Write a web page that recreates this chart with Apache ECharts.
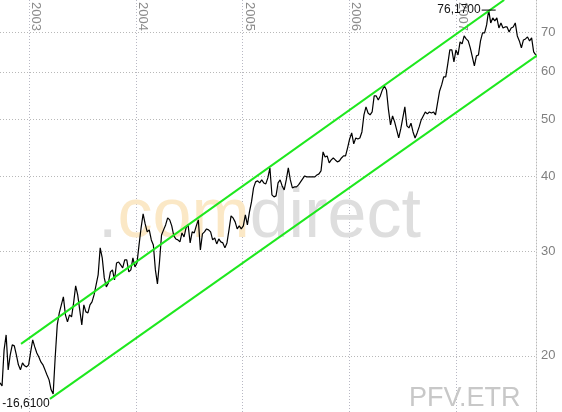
<!DOCTYPE html>
<html><head><meta charset="utf-8">
<script src="https://cdn.jsdelivr.net/npm/echarts@6/dist/echarts.min.js"></script>
<style>html,body{margin:0;padding:0;background:#fff}#c{width:562px;height:412px}</style>
</head><body><div id="c"></div>
<script>
// weekly closes (PFV.ETR), first week starting Mon 23 Sep 2002
const firstWeek = [2002, 8, 23];
const closes = [18.02,17.81,20.47,21.69,18.95,20.08,20.87,20.79,20.08,19.32,
18.95,19.47,19.25,19.17,19.32,20.31,21.28,20.71,20.23,19.92,
19.54,19.32,18.95,18.58,18.23,17.54,17.27,19.92,22.55,23.62,
24.36,25.13,23.44,22.81,23.44,23.26,24.55,26.22,25.32,23.89,
22.55,24.36,23.71,23.62,24.36,24.65,25.32,26.32,27.36,30.37,
29.22,27.04,26.12,26.52,27.68,27.89,26.83,28.65,28.76,28.43,
28.10,28.99,28.99,27.68,27.89,29.22,28.21,28.65,30.72,32.81,
34.63,33.32,32.31,32.56,31.32,30.72,27.89,26.42,28.76,31.93,
32.56,33.19,34.10,33.84,33.06,31.81,31.44,31.32,31.08,32.18,
31.69,32.81,33.19,30.96,32.31,32.18,33.06,33.84,30.13,32.06,
32.31,32.68,32.56,32.31,31.32,31.56,30.84,31.44,31.08,30.96,
30.37,30.96,32.56,34.37,34.10,33.58,32.68,33.06,32.68,33.06,
34.50,33.19,34.90,36.28,38.30,39.20,39.35,39.04,39.50,39.04,
38.89,39.81,41.38,37.27,36.99,37.13,39.04,39.50,38.59,38.00,
39.50,41.38,39.50,38.30,38.44,38.44,38.74,39.20,39.65,40.11,
39.96,39.96,39.96,39.96,39.96,40.27,40.43,40.90,44.02,43.17,
43.34,42.18,42.67,43.00,42.67,42.35,42.51,43.00,43.34,43.34,
44.70,46.28,47.37,45.40,46.46,46.28,46.46,47.55,50.78,52.38,
51.17,50.78,51.37,54.66,54.66,53.82,54.66,55.94,56.81,55.94,
51.77,48.86,50.58,49.43,47.92,46.46,48.11,50.19,52.38,48.67,
48.30,49.19,47.55,46.46,47.37,48.48,49.81,50.58,51.37,50.98,
51.37,51.17,51.37,50.78,53.20,55.72,57.03,58.82,58.82,61.85,
65.29,65.29,62.34,65.29,64.04,67.35,66.83,68.92,68.13,67.61,
65.80,63.55,61.37,63.80,64.04,67.61,69.73,69.73,71.92,76.17,
72.48,73.90,73.05,73.90,71.09,72.48,71.09,71.37,71.37,70.00,
71.09,71.37,72.48,68.92,67.61,65.80,67.87,68.13,68.66,67.61,
68.39,64.79,64.04];
const xRange = ['2002-09-23', '2007-10-02'];
const yearTicks = ['2003-01-01', '2004-01-01', '2005-01-01', '2006-01-01', '2007-01-01'];
const priceTicks = [20, 30, 40, 50, 60, 70];
const priceRange = [16.1, 79.2];
const channelUpper = [['2002-12-04', 20.95], ['2007-06-15', 79.22]];
const channelLower = [['2003-03-13', 16.94], ['2007-12-30', 68.4]];
const lowMark = { week: 26, value: 16.61, text: '-16,6100' };
const highMark = { week: 239, value: 76.17, text: '76,1700' };

// logarithmic price scale: values are mapped to log10 and drawn on a linear axis
const lg = v => Math.log10(v);
const ts = s => { const p = s.split('-').map(Number); return new Date(p[0], p[1] - 1, p[2]).getTime(); };
const weekDates = closes.map((_, i) => new Date(firstWeek[0], firstWeek[1], firstWeek[2] + 7 * i).getTime());
const priceData = closes.map((v, i) => [weekDates[i], lg(v)]);
const FONT = '"Liberation Sans", Arial, sans-serif';
const dotted = [1, 2];

const chart = echarts.init(document.getElementById('c'), null, { renderer: 'canvas' });
chart.setOption({
  animation: false,
  backgroundColor: '#fff',
  grid: { left: 0, right: 26, top: 0, bottom: 0, containLabel: false, outerBoundsMode: 'none' },
  xAxis: {
    type: 'value', position: 'top', scale: true,
    min: ts(xRange[0]), max: ts(xRange[1]),
    axisLine: { show: false },
    axisTick: { show: false, customValues: yearTicks.map(ts) },
    axisLabel: {
      customValues: yearTicks.map(ts), inside: true, rotate: 90,
      align: 'left', verticalAlign: 'bottom', margin: 2,
      color: '#8c8c8c', fontSize: 13, fontFamily: FONT,
      formatter: v => String(new Date(v).getFullYear())
    },
    splitLine: { show: true, lineStyle: { type: dotted, color: '#b8b8c4', width: 1 } }
  },
  yAxis: {
    type: 'value', position: 'right', scale: true,
    min: lg(priceRange[0]), max: lg(priceRange[1]),
    axisLine: { show: true, onZero: false, lineStyle: { type: dotted, color: '#b8b8b8' } },
    axisTick: { show: false, customValues: priceTicks.map(lg) },
    axisLabel: {
      customValues: priceTicks.map(lg), margin: 5, color: '#808080', fontSize: 13, fontFamily: FONT,
      formatter: v => String(Math.round(Math.pow(10, v)))
    },
    splitLine: { show: true, lineStyle: { type: dotted, color: '#b8b8b8', width: 1 } }
  },
  graphic: [
    {
      type: 'text', x: 98, y: 218, z: 1, silent: true,
      style: {
        text: '{g|.}{y|com}{g|direct}',
        verticalAlign: 'middle', align: 'left',
        font: '70px ' + FONT,
        rich: {
          g: { fill: '#dedede', fontSize: 70, fontFamily: FONT },
          y: { fill: '#fbe8c6', fontSize: 70, fontFamily: FONT }
        }
      }
    },
    {
      type: 'text', x: 409, y: 399, z: 1, silent: true,
      style: { text: 'PFV.ETR', fill: '#c8c8c8', font: '27px ' + FONT, verticalAlign: 'middle', align: 'left' }
    }
  ],
  series: [
    {
      type: 'line', data: priceData, showSymbol: false, symbol: 'none',
      lineStyle: { color: '#000', width: 1.2 }, z: 2,
      markPoint: {
        silent: true, animation: false,
        data: [
          {
            coord: [weekDates[lowMark.week], lg(lowMark.value)], symbol: 'circle', symbolSize: 1,
            itemStyle: { color: 'rgba(0,0,0,0)' },
            label: { show: true, position: 'left', distance: 3, formatter: lowMark.text, color: '#111', fontSize: 12, fontFamily: FONT }
          },
          {
            coord: [weekDates[highMark.week], lg(highMark.value)], symbol: 'rect', symbolSize: [14, 1],
            itemStyle: { color: '#000' },
            label: { show: true, position: 'left', distance: 1, formatter: highMark.text, color: '#111', fontSize: 12, fontFamily: FONT }
          }
        ]
      }
    },
    {
      type: 'line', data: channelUpper.map(p => [ts(p[0]), lg(p[1])]), clip: false, showSymbol: false, symbol: 'none',
      lineStyle: { color: '#1ee81e', width: 2 }, z: 3, silent: true
    },
    {
      type: 'line', data: channelLower.map(p => [ts(p[0]), lg(p[1])]), clip: false, showSymbol: false, symbol: 'none',
      lineStyle: { color: '#1ee81e', width: 2 }, z: 3, silent: true
    }
  ]
});
</script></body></html>
